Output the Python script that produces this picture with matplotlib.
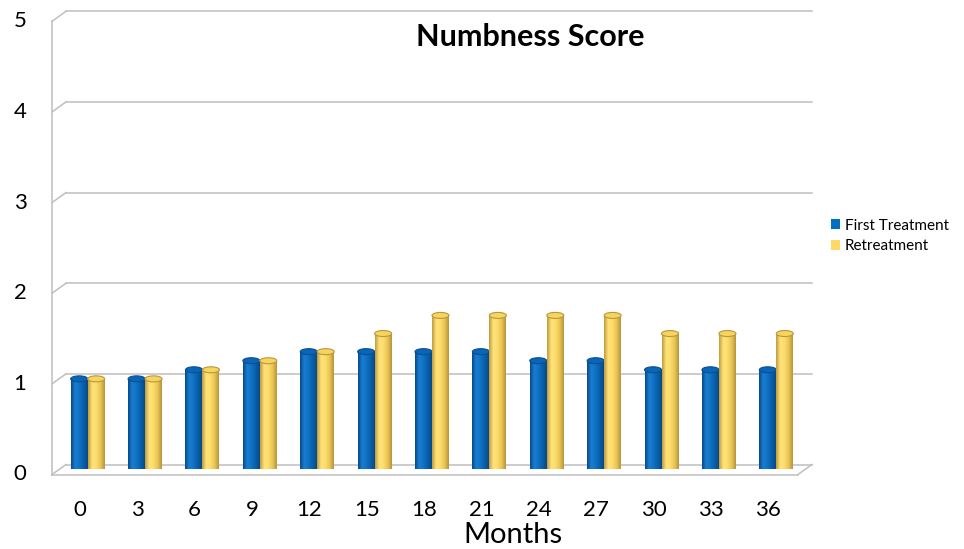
import numpy as np
import matplotlib

matplotlib.use("Agg")
import matplotlib.pyplot as plt
from matplotlib.colors import LinearSegmentedColormap
from matplotlib.patches import Rectangle, Ellipse, Patch

plt.rcParams["font.family"] = ["Lato", "DejaVu Sans"]

# data
months = ["0", "3", "6", "9", "12", "15", "18", "21", "24", "27", "30", "33", "36"]
first_treatment = [1.0, 1.0, 1.1, 1.2, 1.3, 1.3, 1.3, 1.3, 1.2, 1.2, 1.1, 1.1, 1.1]
retreatment = [1.0, 1.0, 1.1, 1.2, 1.3, 1.5, 1.7, 1.7, 1.7, 1.7, 1.5, 1.5, 1.5]
y_ticks = [0, 1, 2, 3, 4, 5]

series_names = ["First Treatment", "Retreatment"]
series_colors = ["#0070C0", "#FFD966"]
gradients = [
    ["#064a8c", "#1a7ed0", "#0f72c4", "#0a5fa9", "#07498a"],
    ["#bf9c3a", "#ffe37c", "#fcdc6a", "#e9c556", "#b8953a"],
]
top_faces = ["#0865b8", "#f7d45e"]
top_edges = ["#0a4f8f", "#b8973f"]
grid_color = "#bfbfbf"

W, H = 964, 549
fig = plt.figure(figsize=(W / 100, H / 100), dpi=100)

# axes = the plane the bars stand in (middle of the 3-D depth)
ax_left, ax_right = 59, 805
ax_y0, ax_y5 = 469.5, 16.3
ax = fig.add_axes([ax_left / W, (H - ax_y0) / H, (ax_right - ax_left) / W, (ax_y0 - ax_y5) / H])
n = len(months)
ax.set_xlim(-0.5, n - 0.5)
ax.set_ylim(0, 5)
ax.axis("off")

px_x = (ax_right - ax_left) / n
px_y = (ax_y0 - ax_y5) / 5
# half depth offset (pixels) turned into data units
dx = 7 / px_x
dy = 5 / px_y

# back wall gridlines and left wall diagonals
xl, xr = -0.5, n - 0.5
line_kw = dict(color=grid_color, lw=1.1, clip_on=False, zorder=0)
for v in y_ticks:
    ax.plot([xl + dx, xr + dx], [v + dy, v + dy], **line_kw)
    ax.plot([xl - dx, xl + dx], [v - dy, v + dy], **line_kw)
ax.plot([xl - dx, xl - dx], [0 - dy, 5 - dy], **line_kw)
ax.plot([xl - dx, xr - dx], [-dy, -dy], **line_kw)
ax.plot([xr - dx, xr + dx], [-dy, dy], **line_kw)

# cylinders
bar_w = 17 / px_x
eh = 6 / px_y
for s, values in enumerate([first_treatment, retreatment]):
    cmap = LinearSegmentedColormap.from_list(f"cyl{s}", gradients[s])
    grad = np.linspace(0, 1, 64).reshape(1, -1)
    for i, v in enumerate(values):
        xc = i + (s - 0.5) * bar_w
        x0, x1 = xc - bar_w / 2, xc + bar_w / 2
        body = Rectangle((x0, 0), bar_w, v, transform=ax.transData)
        im = ax.imshow(grad, cmap=cmap, extent=(x0, x1, 0, v), aspect="auto",
                       zorder=2 + s, interpolation="bilinear")
        im.set_clip_path(body)
        bottom = Ellipse((xc, 0), bar_w, eh, transform=ax.transData)
        im2 = ax.imshow(grad, cmap=cmap, extent=(x0, x1, -eh, 0), aspect="auto",
                        zorder=2 + s, interpolation="bilinear")
        im2.set_clip_path(bottom)
        ax.add_patch(Ellipse((xc, v), bar_w, eh, facecolor=top_faces[s],
                             edgecolor=top_edges[s], lw=0.8, zorder=2.5 + s))

ax.set_xlim(-0.5, n - 0.5)
ax.set_ylim(0, 5)

# tick labels sit on the front edge
for v in y_ticks:
    ax.annotate(str(v), xy=(xl, v), xytext=(-39, -5), textcoords="offset pixels",
                ha="center", va="center", fontsize=16, annotation_clip=False)
for i, m in enumerate(months):
    ax.annotate(m, xy=(i, 0), xytext=(-8, -40), textcoords="offset pixels",
                ha="center", va="center", fontsize=16, annotation_clip=False)

fig.text(513 / W, 1 - 535 / H, "Months", ha="center", va="center", fontsize=21)
fig.text(530 / W, 1 - 37 / H, "Numbness Score", ha="center", va="center",
         fontsize=22, fontweight="bold")

handles = [Patch(facecolor=c, edgecolor="none") for c in series_colors]
fig.legend(handles, series_names, loc="center left", bbox_to_anchor=(825 / W, 1 - 236 / H),
           frameon=False, fontsize=11, handlelength=0.6, handleheight=0.6,
           handletextpad=0.3, labelspacing=0.45, borderaxespad=0)

fig.savefig("out.png", dpi=100)
